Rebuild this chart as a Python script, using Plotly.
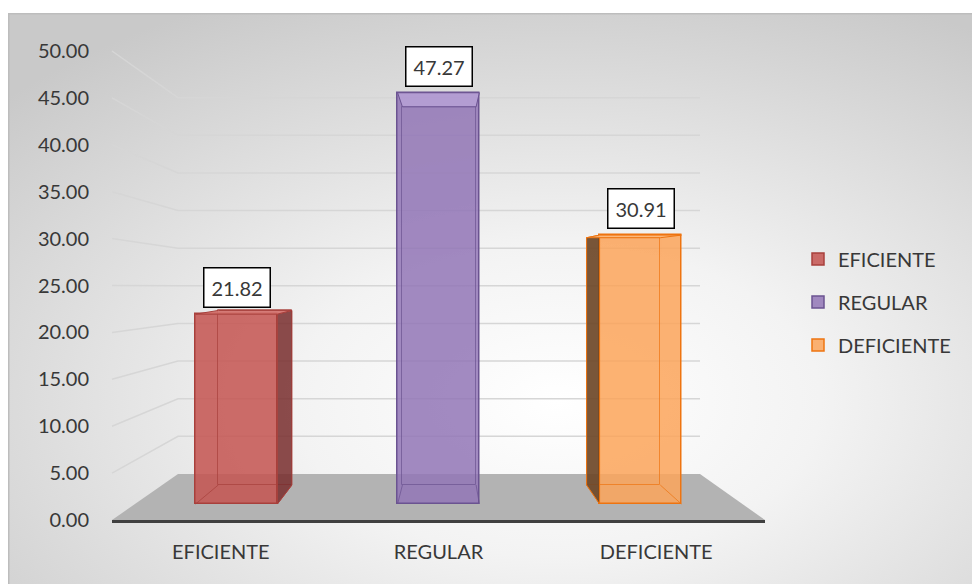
import base64
import plotly.graph_objects as go

# ---------------- data ----------------
categories = ["EFICIENTE", "REGULAR", "DEFICIENTE"]
values = [21.82, 47.27, 30.91]
y_ticks = [0, 5, 10, 15, 20, 25, 30, 35, 40, 45, 50]

# ---------------- styling / geometry (pixels) ----------------
W, H = 972, 584
YMAX = 50
FONT = "Lato"
TXT = "#383838"

FRONT_X = (135.5, 741.5)   # domain of the bar front faces
FRONT_Y = (504.0, 69.0)    # pixel y of 0 and YMAX
BACK_X = (163.0, 715.5)    # back faces of the 3D bars
BACK_Y = (485.0, 85.0)
WALL_X = (178.0, 700.0)    # back wall
WALL_Y = (474.0, 97.7)
AXIS_X = (112.0, 765.0)    # front axis (labels)
AXIS_Y = (520.0, 51.0)
BAR_W = 0.405
BACK_W = 0.40

fills = ["rgba(196,84,80,0.85)", "rgba(146,118,182,0.85)", "rgba(252,164,90,0.85)"]
outlines = ["#a8403c", "#6b5391", "#ee7410"]
sides = ["rgba(120,45,45,0.85)", "rgba(80,60,110,0.85)", "rgba(110,72,40,0.92)"]
tops = ["rgba(210,110,105,0.9)", "rgba(196,176,228,0.55)", "rgba(252,185,125,0.9)"]
GRID = "#d6d6d6"


def px(x):
    return x / W


def py(y):
    return 1 - y / H


def dom_x(d):
    return [px(d[0]), px(d[1])]


def dom_y(d):
    return [py(d[0]), py(d[1])]


def cx(dom, i):
    return dom[0] + (i + 0.5) * (dom[1] - dom[0]) / len(categories)


def vy(dom, v):
    return dom[0] + v / YMAX * (dom[1] - dom[0])


fig = go.Figure()

# back faces (seen through the translucent bars)
for i, (c, v) in enumerate(zip(categories, values)):
    fig.add_trace(go.Bar(
        x=[c], y=[v], xaxis="x3", yaxis="y3", width=BACK_W,
        marker=dict(color="rgba(0,0,0,0)", line=dict(color=outlines[i], width=1)),
        opacity=0.7, showlegend=False, hoverinfo="skip"))

# front faces
for i, (c, v) in enumerate(zip(categories, values)):
    fig.add_trace(go.Bar(
        x=[c], y=[v], name=c, xaxis="x", yaxis="y", width=BAR_W,
        legendgroup=c,
        marker=dict(color=fills[i], line=dict(color=outlines[i], width=1.5))))

# helper trace so the label axes exist
fig.add_trace(go.Scatter(x=categories, y=[None] * 3, xaxis="x2", yaxis="y2",
                         mode="markers", showlegend=False, hoverinfo="skip"))


def P(x, y):
    return f"{px(x)},{py(y)}"


shapes = []
# floor
floor = (f"M{P(WALL_X[0], WALL_Y[0])} L{P(WALL_X[1], WALL_Y[0])} "
         f"L{P(AXIS_X[1], AXIS_Y[0])} L{P(AXIS_X[0], AXIS_Y[0])} Z")
shapes.append(dict(type="path", path=floor, xref="paper", yref="paper",
                   fillcolor="#b3b3b3", line=dict(width=0), layer="below"))
# back wall + side wall grid lines
for t in y_ticks[1:]:
    shapes.append(dict(type="path", xref="paper", yref="paper",
                       path=(f"M{P(AXIS_X[0], vy(AXIS_Y, t))} L{P(WALL_X[0], vy(WALL_Y, t))} "
                             f"L{P(WALL_X[1], vy(WALL_Y, t))}"),
                       line=dict(color=GRID, width=1.5), layer="below"))

# 3D faces of bars
hw_f = BAR_W / 2 * (FRONT_X[1] - FRONT_X[0]) / len(categories)
hw_b = BACK_W / 2 * (BACK_X[1] - BACK_X[0]) / len(categories)

for i, v in enumerate(values):
    fxc, bxc = cx(FRONT_X, i), cx(BACK_X, i)
    fl, fr = fxc - hw_f, fxc + hw_f
    bl, br = bxc - hw_b, bxc + hw_b
    ft, fb = vy(FRONT_Y, v), vy(FRONT_Y, 0)
    bt, bb = vy(BACK_Y, v), vy(BACK_Y, 0)
    shapes.append(dict(type="path", xref="paper", yref="paper",
                       path=f"M{P(fl, fb)} L{P(bl, bb)} M{P(fr, fb)} L{P(br, bb)}",
                       line=dict(color=outlines[i], width=1), opacity=0.7))
    if bl < fl:
        shapes.append(dict(type="path", xref="paper", yref="paper",
                           path=f"M{P(fl, ft)} L{P(bl, bt)} L{P(bl, bb)} L{P(fl, fb)} Z",
                           fillcolor=sides[i], line=dict(color=outlines[i], width=1)))
    if br > fr:
        shapes.append(dict(type="path", xref="paper", yref="paper",
                           path=f"M{P(fr, ft)} L{P(br, bt)} L{P(br, bb)} L{P(fr, fb)} Z",
                           fillcolor=sides[i], line=dict(color=outlines[i], width=1)))
    shapes.append(dict(type="path", xref="paper", yref="paper",
                       path=f"M{P(fl, ft)} L{P(fr, ft)} L{P(br, bt)} L{P(bl, bt)} Z",
                       fillcolor=tops[i], line=dict(color=outlines[i], width=1)))

annotations = []
for c, v in zip(categories, values):
    annotations.append(dict(
        x=c, y=v, xref="x", yref="y", text=f"{v:.2f}", showarrow=False,
        yanchor="bottom", yshift=6, bgcolor="white", bordercolor="black",
        borderwidth=1.5, borderpad=7, font=dict(family=FONT, size=20, color=TXT)))

# background gradient as svg image
svg = f"""<svg xmlns='http://www.w3.org/2000/svg' width='{W - 8}' height='{H - 13}'>
<defs><radialGradient id='g' cx='0.57' cy='0.68' r='0.78'>
<stop offset='0' stop-color='#ffffff'/><stop offset='0.35' stop-color='#f3f3f3'/>
<stop offset='1' stop-color='#c9c9c9'/></radialGradient></defs>
<rect x='0' y='0' width='{W - 8}' height='{H - 13}' fill='url(#g)'/>
<line x1='0' y1='0.75' x2='{W}' y2='0.75' stroke='#bdbdbd' stroke-width='1.5'/>
<line x1='0.75' y1='0' x2='0.75' y2='{H}' stroke='#bdbdbd' stroke-width='1.5'/>
</svg>"""
src = "data:image/svg+xml;base64," + base64.b64encode(svg.encode()).decode()

hidden = dict(showgrid=False, zeroline=False, showticklabels=False, showline=False,
              ticks="", automargin=False)

fig.update_layout(
    width=W, height=H, margin=dict(l=0, r=0, t=0, b=0, pad=0, autoexpand=False),
    paper_bgcolor="white", plot_bgcolor="rgba(0,0,0,0)",
    barmode="overlay", bargap=0,
    font=dict(family=FONT, color=TXT),
    xaxis=dict(domain=dom_x(FRONT_X), anchor="y", range=[-0.5, 2.5], type="category", **hidden),
    yaxis=dict(domain=dom_y(FRONT_Y), anchor="x", range=[0, YMAX], **hidden),
    xaxis3=dict(domain=dom_x(BACK_X), anchor="y3", range=[-0.5, 2.5], type="category", **hidden),
    yaxis3=dict(domain=dom_y(BACK_Y), anchor="x3", range=[0, YMAX], **hidden),
    xaxis2=dict(domain=dom_x(AXIS_X), anchor="y2", range=[-0.5, 2.5], type="category",
                showgrid=False, zeroline=False, showline=True, linecolor="#404040", linewidth=3,
                ticks="outside", ticklen=12, tickcolor="rgba(0,0,0,0)", automargin=False,
                tickfont=dict(family=FONT, size=20, color=TXT)),
    yaxis2=dict(domain=dom_y(AXIS_Y), anchor="x2", range=[0, YMAX], tickvals=y_ticks,
                tickformat=".2f", showgrid=False, zeroline=False, showline=False,
                ticks="outside", ticklen=18, tickcolor="rgba(0,0,0,0)", automargin=False,
                tickfont=dict(family=FONT, size=20, color=TXT)),
    legend=dict(x=px(798), y=py(302), xanchor="left", yanchor="middle",
                bgcolor="rgba(0,0,0,0)", tracegroupgap=14,
                font=dict(family=FONT, size=20, color=TXT)),
    shapes=shapes, annotations=annotations,
    images=[dict(source=src, xref="paper", yref="paper", x=px(8), y=py(13),
                 sizex=px(W - 8), sizey=(H - 13) / H, sizing="stretch",
                 xanchor="left", yanchor="top", layer="below")],
)

fig.write_html("out.html")
